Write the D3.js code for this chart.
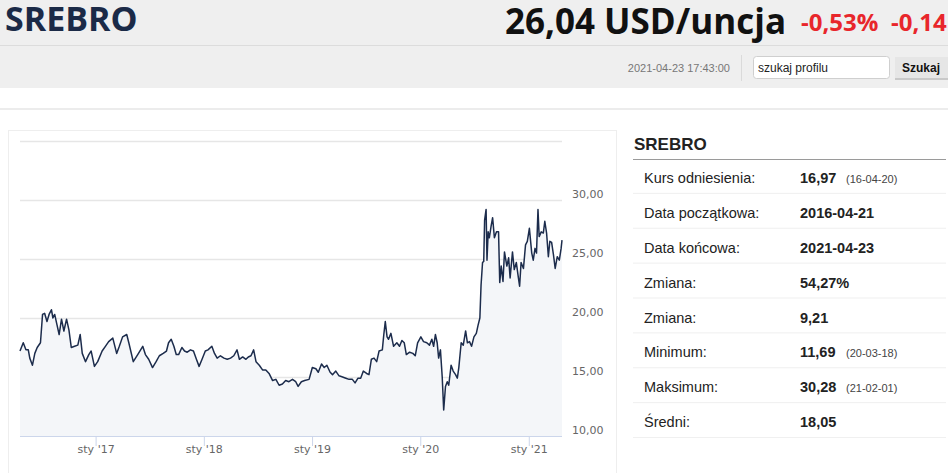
<!DOCTYPE html>
<html>
<head>
<meta charset="utf-8">
<script src="https://cdn.jsdelivr.net/npm/d3@7.9.0/dist/d3.min.js"></script>
<style>
  html, body { margin: 0; padding: 0; background: #fff; }
  svg { display: block; }
</style>
</head>
<body>
<svg id="page" width="948" height="473"></svg>
<script>
// price series (USD / oz)
const dates = [
  '2016-04-21','2016-05-02','2016-05-11','2016-05-19','2016-05-24','2016-06-02','2016-06-10','2016-06-18',
  '2016-06-29','2016-07-06','2016-07-13','2016-07-21','2016-07-28','2016-08-05','2016-08-10','2016-08-16',
  '2016-08-24','2016-08-31','2016-09-08','2016-09-16','2016-09-25','2016-10-03','2016-10-11','2016-10-22',
  '2016-11-02','2016-11-10','2016-11-17','2016-11-28','2016-12-09','2016-12-17','2016-12-28','2017-01-08',
  '2017-01-23','2017-02-03','2017-02-14','2017-02-28','2017-03-13','2017-03-22','2017-04-02','2017-04-16',
  '2017-04-23','2017-05-08','2017-05-23','2017-06-09','2017-06-18','2017-06-29','2017-07-12','2017-07-24',
  '2017-08-04','2017-08-17','2017-08-28','2017-09-04','2017-09-13','2017-09-22','2017-09-30','2017-10-08',
  '2017-10-19','2017-10-28','2017-11-06','2017-11-17','2017-11-27','2017-12-07','2017-12-16','2017-12-26',
  '2018-01-06','2018-01-15','2018-01-28','2018-02-06','2018-02-15','2018-02-26','2018-03-10','2018-03-21',
  '2018-04-01','2018-04-12','2018-04-23','2018-05-01','2018-05-12','2018-05-23','2018-05-31','2018-06-09',
  '2018-06-18','2018-06-26','2018-07-07','2018-07-18','2018-07-29','2018-08-09','2018-08-21','2018-09-01',
  '2018-09-12','2018-09-23','2018-10-04','2018-10-15','2018-10-27','2018-11-07','2018-11-15','2018-11-26',
  '2018-12-07','2018-12-22','2019-01-02','2019-01-14','2019-01-22','2019-02-02','2019-02-11','2019-02-20',
  '2019-03-03','2019-03-11','2019-03-22','2019-04-02','2019-04-14','2019-04-25','2019-05-06','2019-05-17',
  '2019-05-26','2019-06-05','2019-06-14','2019-06-23','2019-07-04','2019-07-12','2019-07-20','2019-07-29',
  '2019-08-07','2019-08-15','2019-08-26','2019-08-31','2019-09-05','2019-09-11','2019-09-16','2019-09-24',
  '2019-10-03','2019-10-14','2019-10-23','2019-10-31','2019-11-08','2019-11-15','2019-11-26','2019-12-07',
  '2019-12-15','2019-12-23','2020-01-03','2020-01-12','2020-01-23','2020-02-01','2020-02-09','2020-02-15',
  '2020-02-21','2020-02-27','2020-03-03','2020-03-09','2020-03-15','2020-03-20','2020-03-26','2020-04-01',
  '2020-04-06','2020-04-14','2020-04-21','2020-04-29','2020-05-05','2020-05-10','2020-05-18','2020-05-25',
  '2020-06-02','2020-06-08','2020-06-15','2020-06-22','2020-06-30','2020-07-08','2020-07-14','2020-07-20',
  '2020-07-24','2020-07-29','2020-08-02','2020-08-05','2020-08-10','2020-08-13','2020-08-17','2020-08-21',
  '2020-08-27','2020-09-01','2020-09-07','2020-09-14','2020-09-21','2020-09-25','2020-09-30','2020-10-06',
  '2020-10-11','2020-10-19','2020-10-25','2020-10-30','2020-11-07','2020-11-13','2020-11-20','2020-11-27',
  '2020-12-01','2020-12-06','2020-12-14','2020-12-21','2020-12-27','2021-01-03','2021-01-11','2021-01-16',
  '2021-01-22','2021-01-27','2021-02-01','2021-02-05','2021-02-12','2021-02-19','2021-02-24','2021-03-02',
  '2021-03-08','2021-03-13','2021-03-19','2021-03-25','2021-03-31','2021-04-07','2021-04-14','2021-04-20',
  '2021-04-23'
];
const prices = [
  17.2, 17.9, 17.3, 17.3, 16.6, 16.0, 17.0, 17.5,
  17.9, 20.3, 20.4, 19.7, 20.3, 20.7, 20.0, 20.3,
  19.4, 18.6, 19.9, 18.9, 19.9, 19.0, 17.5, 17.6,
  17.7, 18.6, 17.0, 16.3, 16.9, 17.2, 15.9, 16.3,
  17.2, 17.6, 18.0, 18.3, 17.0, 17.6, 18.4, 18.6,
  17.9, 16.3, 16.9, 17.6, 16.9, 16.5, 15.8, 16.3,
  16.8, 17.0, 17.2, 17.9, 18.2, 17.6, 16.9, 16.9,
  17.5, 17.2, 17.1, 17.3, 17.2, 16.5, 15.9, 16.5,
  17.2, 17.3, 17.6, 17.0, 16.6, 16.8, 16.6, 16.5,
  16.6, 16.8, 17.3, 16.5, 16.7, 16.5, 16.7, 16.8,
  17.3, 16.3, 16.0, 15.6, 15.6, 15.3, 14.7, 14.8,
  14.3, 14.4, 14.7, 14.6, 14.8, 14.6, 14.2, 14.6,
  14.7, 14.8, 15.8, 15.7, 15.4, 16.1, 15.8, 16.0,
  15.4, 15.2, 15.5, 15.1, 15.0, 14.9, 14.8, 14.8,
  14.5, 14.9, 14.9, 15.5, 15.3, 15.2, 16.5, 16.6,
  16.3, 17.2, 17.3, 18.6, 19.7, 18.4, 18.2, 18.7,
  17.6, 17.9, 17.6, 18.1, 17.9, 16.9, 17.1, 17.0,
  16.8, 17.9, 18.4, 18.0, 17.9, 17.7, 18.2, 17.6,
  18.6, 17.9, 16.6, 17.3, 15.0, 12.2, 14.2, 14.6,
  14.3, 16.0, 15.5, 15.2, 14.9, 15.8, 17.9, 17.7,
  18.9, 17.9, 18.0, 17.6, 18.4, 18.7, 19.4, 20.0,
  22.8, 24.7, 24.8, 28.3, 29.2, 24.9, 27.3, 26.8,
  27.8, 28.5, 26.8, 27.3, 27.3, 23.0, 24.4, 23.1,
  25.6, 24.4, 25.1, 23.4, 25.6, 24.1, 24.7, 23.4,
  22.7, 24.7, 24.2, 26.2, 26.5, 27.6, 25.5, 24.9,
  25.9, 25.5, 29.2, 26.9, 27.3, 27.2, 28.2, 27.2,
  25.2, 26.5, 26.4, 25.4, 24.2, 25.2, 24.9, 25.9,
  26.6
];
const yTicks = [10, 15, 20, 25, 30, 35];
const xTickDates = ['2017-01-01', '2018-01-01', '2019-01-01', '2020-01-01', '2021-01-01'];

// side table
const statLabels = ['Kurs odniesienia:', 'Data początkowa:', 'Data końcowa:', 'Zmiana:', 'Zmiana:', 'Minimum:', 'Maksimum:', 'Średni:'];
const statValues = ['16,97', '2016-04-21', '2021-04-23', '54,27%', '9,21', '11,69', '30,28', '18,05'];
const statNotes = ['(16-04-20)', '', '', '', '', '(20-03-18)', '(21-02-01)', ''];

const parse = d3.timeParse('%Y-%m-%d');
const data = dates.map((d, i) => ({ date: parse(d), value: prices[i] }));
const fmt = d3.formatLocale({ decimal: ',', thousands: ' ', grouping: [3], currency: ['', ''] }).format(',.2f');
const monthPl = ['sty', 'lut', 'mar', 'kwi', 'maj', 'cze', 'lip', 'sie', 'wrz', 'paź', 'lis', 'gru'];

const svg = d3.select('#page');

// ---- header ----
svg.append('rect').attr('x', 0).attr('y', 0).attr('width', 948).attr('height', 88).attr('fill', '#efefef');
svg.append('rect').attr('x', 0).attr('y', 45).attr('width', 948).attr('height', 1).attr('fill', '#dcdcdc');
svg.append('text').attr('x', 5).attr('y', 31)
  .attr('font-family', 'Open Sans').attr('font-weight', 700).attr('font-size', 34)
  .attr('fill', '#1b2a47').text('SREBRO');
svg.append('text').attr('x', 505).attr('y', 34)
  .attr('font-family', 'Open Sans').attr('font-weight', 700).attr('font-size', 35)
  .attr('fill', '#111').text('26,04 USD/uncja');
svg.append('text').attr('x', 801).attr('y', 31)
  .attr('font-family', 'Open Sans').attr('font-weight', 700).attr('font-size', 24)
  .attr('fill', '#e8262b').text('-0,53%');
svg.append('text').attr('x', 891).attr('y', 31)
  .attr('font-family', 'Open Sans').attr('font-weight', 700).attr('font-size', 24)
  .attr('fill', '#e8262b').text('-0,14');

svg.append('text').attr('x', 730).attr('y', 72).attr('text-anchor', 'end')
  .attr('font-family', 'Liberation Sans').attr('font-size', 11)
  .attr('fill', '#777').text('2021-04-23 17:43:00');
svg.append('rect').attr('x', 741).attr('y', 55).attr('width', 1).attr('height', 26).attr('fill', '#dadada');
svg.append('rect').attr('x', 753.5).attr('y', 56.5).attr('width', 136).attr('height', 22).attr('rx', 3)
  .attr('fill', '#fff').attr('stroke', '#cfcfcf');
svg.append('text').attr('x', 758).attr('y', 72)
  .attr('font-family', 'Liberation Sans').attr('font-size', 12)
  .attr('fill', '#222').text('szukaj profilu');
svg.append('rect').attr('x', 895).attr('y', 57).attr('width', 53).attr('height', 22)
  .attr('fill', '#e6e6e6');
svg.append('rect').attr('x', 895).attr('y', 78).attr('width', 53).attr('height', 2).attr('fill', '#c9c9c9');
svg.append('text').attr('x', 921).attr('y', 72).attr('text-anchor', 'middle')
  .attr('font-family', 'Liberation Sans').attr('font-weight', 700).attr('font-size', 12)
  .attr('fill', '#111').text('Szukaj');

svg.append('rect').attr('x', 0).attr('y', 108).attr('width', 948).attr('height', 2).attr('fill', '#ececec');

// ---- chart panel ----
svg.append('rect').attr('x', 8.5).attr('y', 130.5).attr('width', 608).attr('height', 360)
  .attr('fill', '#fff').attr('stroke', '#eeeeee');

const x = d3.scaleTime()
  .domain([parse('2016-04-21'), parse('2021-04-23')])
  .range([20, 562]);
const y = d3.scaleLinear().domain([10, 35]).range([436, 141]);

const chart = svg.append('g');

// gridlines
chart.append('g')
  .selectAll('line')
  .data(yTicks.slice(1))
  .join('line')
  .attr('x1', 20).attr('x2', 562)
  .attr('y1', (d) => Math.round(y(d)) + 0.5).attr('y2', (d) => Math.round(y(d)) + 0.5)
  .attr('stroke', '#e6e6e6').attr('stroke-width', 1.5);

// area + line
const area = d3.area().x((d) => x(d.date)).y0(y(10)).y1((d) => y(d.value));
const line = d3.line().x((d) => x(d.date)).y((d) => y(d.value));
chart.append('path').datum(data).attr('d', area).attr('fill', '#f4f6f9');
chart.append('path').datum(data).attr('d', line)
  .attr('fill', 'none').attr('stroke', '#1c2c4c').attr('stroke-width', 1.5)
  .attr('stroke-linejoin', 'round');

// y labels (sit just above their gridline, right side)
chart.append('g')
  .selectAll('text')
  .data(yTicks.slice(0, 5))
  .join('text')
  .attr('x', 572).attr('y', (d) => y(d) - 2)
  .attr('font-family', 'DejaVu Sans').attr('font-size', 11)
  .attr('fill', '#666').text((d) => fmt(d));

// x axis
const xAxis = d3.axisBottom(x)
  .tickValues(xTickDates.map(parse))
  .tickSize(10)
  .tickFormat((d) => `${monthPl[d.getMonth()]} '${d3.timeFormat('%y')(d)}`);
const gx = chart.append('g').attr('transform', `translate(0,${y(10)})`).call(xAxis);
gx.select('.domain').attr('stroke', '#ccd6eb').attr('d', 'M20,0.5H562');
gx.selectAll('.tick line').attr('stroke', '#ccd6eb');
gx.selectAll('.tick text')
  .attr('y', 9).attr('dy', '0.71em')
  .attr('font-family', 'DejaVu Sans').attr('font-size', 11).attr('fill', '#666');

// ---- side table ----
svg.append('text').attr('x', 634).attr('y', 150)
  .attr('font-family', 'Liberation Sans').attr('font-weight', 700).attr('font-size', 17)
  .attr('fill', '#222').text('SREBRO');
svg.append('rect').attr('x', 633).attr('y', 159).attr('width', 313).attr('height', 1).attr('fill', '#9a9a9a');

const rowY = d3.scaleBand().domain(d3.range(statLabels.length)).range([159, 438]);
const rows = svg.append('g').selectAll('g')
  .data(statLabels)
  .join('g')
  .attr('transform', (d, i) => `translate(0,${rowY(i)})`);
rows.append('rect').attr('x', 633).attr('y', rowY.bandwidth() - 1)
  .attr('width', 313).attr('height', 1).attr('fill', '#f0f0f0');
rows.append('text').attr('x', 644).attr('y', 24)
  .attr('font-family', 'Liberation Sans').attr('font-size', 14.5)
  .attr('fill', '#222').text((d) => d);
rows.append('text').attr('x', 800).attr('y', 24)
  .attr('font-family', 'Liberation Sans').attr('font-weight', 700).attr('font-size', 14.5)
  .attr('fill', '#222').text((d, i) => statValues[i]);
rows.append('text').attr('x', 846).attr('y', 24)
  .attr('font-family', 'Liberation Sans').attr('font-size', 11)
  .attr('fill', '#444').text((d, i) => statNotes[i]);
</script>
</body>
</html>
